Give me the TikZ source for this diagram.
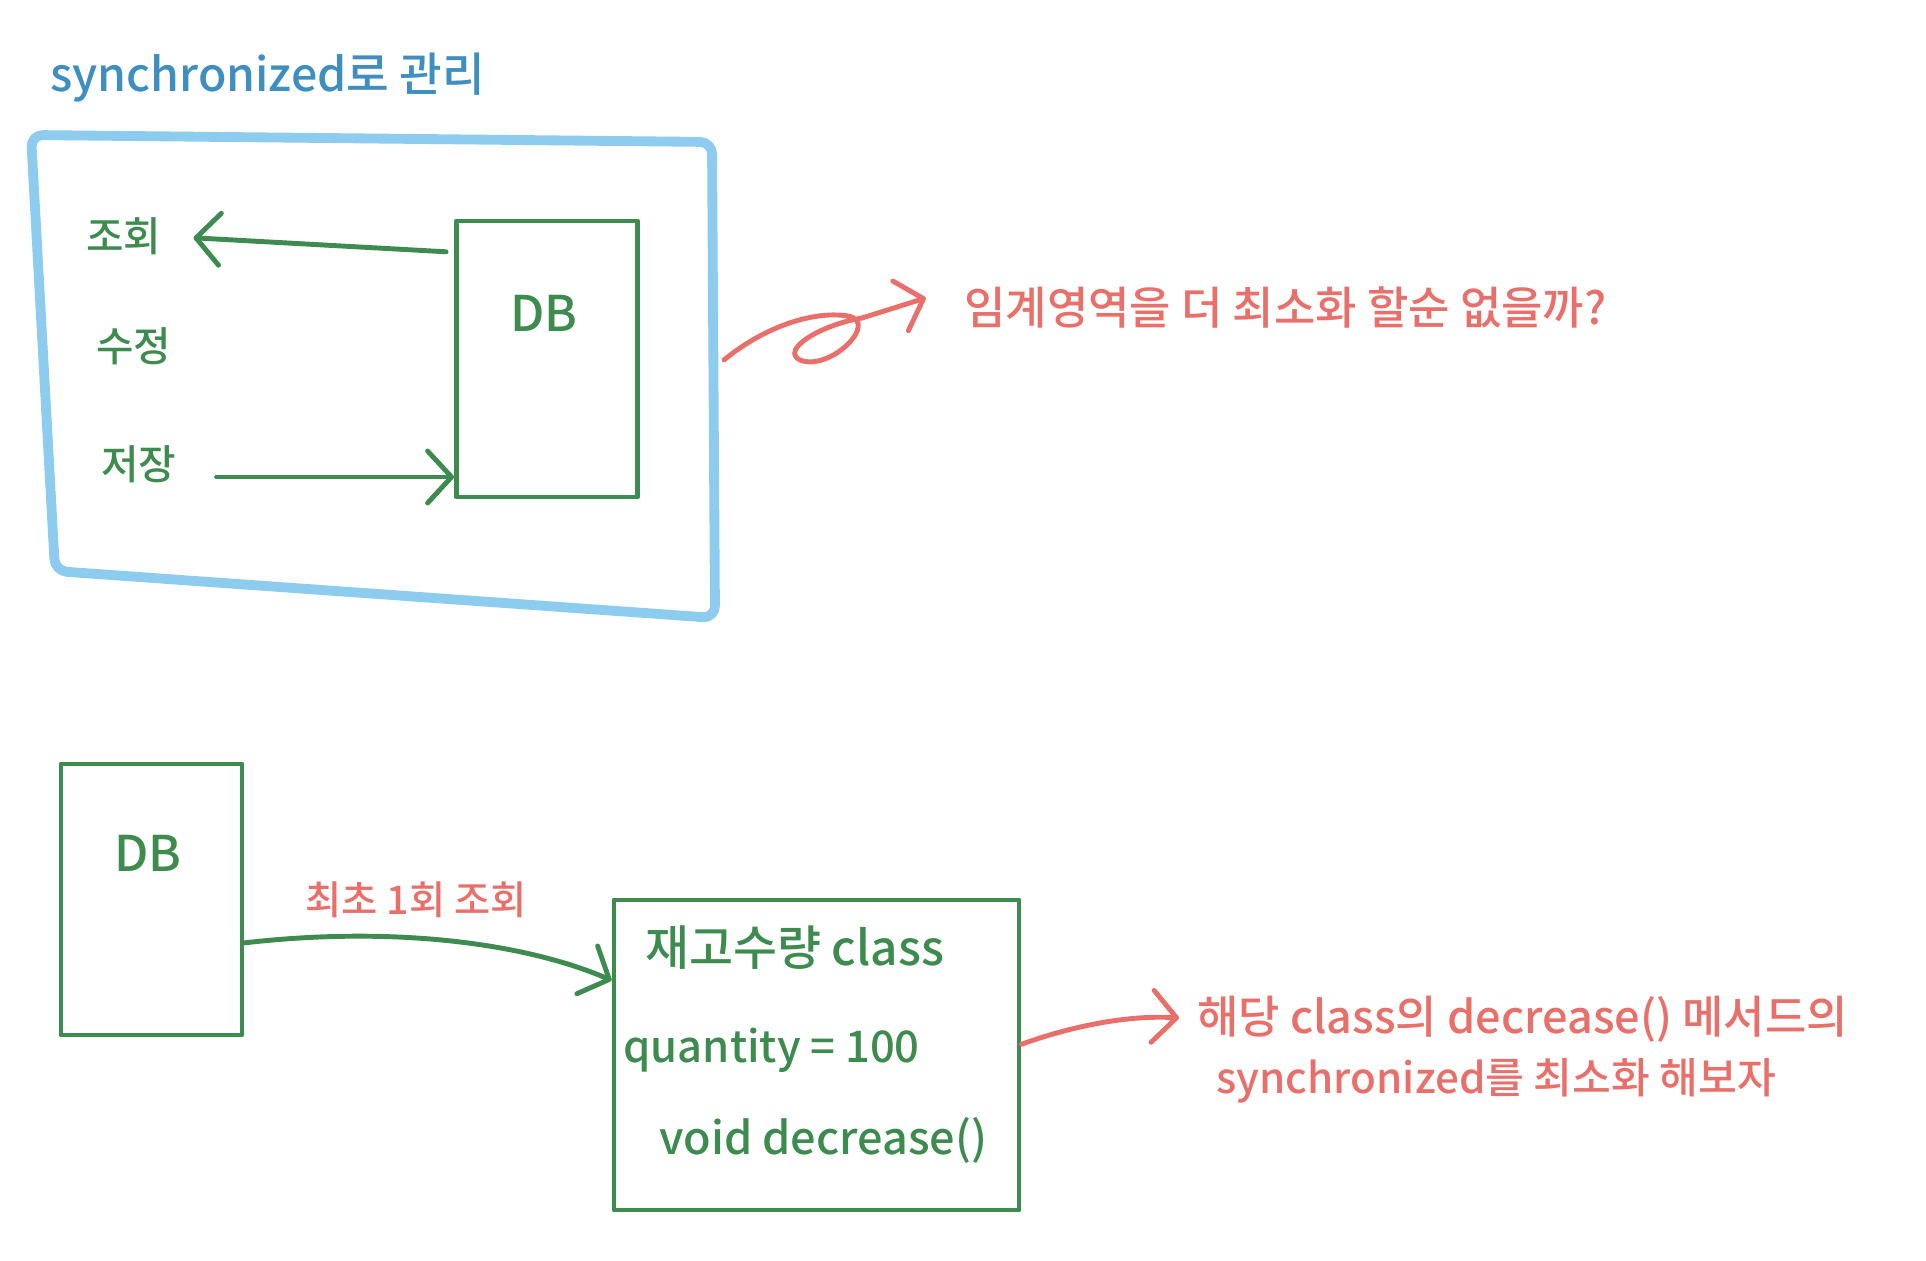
\documentclass[tikz,border=0pt]{standalone}
\usepackage{fontspec}
\setmainfont{Noto Sans CJK KR}[UprightFont=* Medium]
\usepackage{xcolor}
\usetikzlibrary{arrows.meta,positioning,calc}

\definecolor{penGreen}{RGB}{61,139,78}
\definecolor{penRed}{RGB}{233,112,106}
\definecolor{penBlue}{RGB}{62,142,192}
\definecolor{frameBlue}{RGB}{141,204,238}

\begin{document}
\begin{tikzpicture}[
    x=0.25mm, y=-0.25mm,
    box/.style={draw=penGreen, line width=3.5pt, line join=round, minimum width=45.25mm, minimum height=69mm, inner sep=0pt},
    txt/.style={inner sep=0pt, anchor=west, font=\fontsize{31}{36}\selectfont},
    item/.style={txt, penGreen, font=\fontsize{29}{34}\selectfont},
    dbtxt/.style={inner sep=0pt, penGreen, font=\fontsize{35}{40}\selectfont},
    arrow/.style={-{Straight Barb[length=6mm,width=13mm,round]}, line width=3.5pt, line cap=round, penGreen},
    redarrow/.style={arrow, penRed}
]
\useasboundingbox (0,0) rectangle (1926,1261);

\draw[frameBlue, line width=7pt, line join=round, rounded corners=3mm] (31,135) -- (712,142) -- (715,618) -- (55,571) -- cycle;
\coordinate (frameR) at (724,360);
\node[txt, penBlue, font=\fontsize{33}{38}\selectfont] (title) at (50,78) {synchronized로 관리};

\node[item] (q1) at (86,236) {조회};
\node[item] (q2) at (96,346) {수정};
\node[item] (q3) at (101,464) {저장};
\node[box] (dbA) at (547,359) {};
\node[dbtxt] (dbA-label) at (544,313) {DB};
\coordinate (outA) at ($(dbA.north west)!0.12!(dbA.south west)$);
\coordinate (inA) at ($(dbA.north west)!0.92!(dbA.south west)$);
\draw[arrow, shorten <=2mm, shorten >=8mm] (outA) -- (q1.east);
\draw[arrow, shorten <=10mm] (q3.east |- inA) -- (inA);

\node[txt, penRed, font=\fontsize{32}{37}\selectfont] (crit) at (964,307) {임계영역을 더 최소화 할순 없을까?};
\draw[redarrow, shorten >=10mm] (frameR) .. controls (760,330) and (810,310) .. (848,316)
    .. controls (880,322) and (830,372) .. (800,360)
    .. controls (780,350) and (820,325) .. (862,318) -- (crit.north west);

\node[box, minimum height=67.75mm] (dbB) at (151.5,899.5) {};
\node[dbtxt] (dbB-label) at (148,853) {DB};
\node[txt, penRed, font=\fontsize{28}{32}\selectfont] (first) at (305,900) {최초 1회 조회};
\node[box, minimum width=101.25mm, minimum height=77.5mm] (cls) at (816.5,1055) {};
\node[txt, penGreen, font=\fontsize{34}{40}\selectfont] (clsName) at (645,948) {재고수량 class};
\node[txt, penGreen] (clsField) at (623,1050) {quantity = 100};
\node[txt, penGreen, font=\fontsize{32}{37}\selectfont] (clsMethod) at (659,1140) {void decrease()};
\draw[arrow] (dbB.-25) .. controls (400,925) and (530,945) .. (cls.160);

\node[txt, penRed, font=\fontsize{32}{37}\selectfont] (note1) at (1197,1019) {해당 class의 decrease() 메서드의};
\node[txt, penRed, font=\fontsize{30}{35}\selectfont] (note2) at (1216,1081) {synchronized를 최소화 해보자};
\draw[redarrow, shorten >=4.5mm] (cls.3) .. controls (1075,1025) and (1130,1015) .. (note1.west);
\end{tikzpicture}
\end{document}
